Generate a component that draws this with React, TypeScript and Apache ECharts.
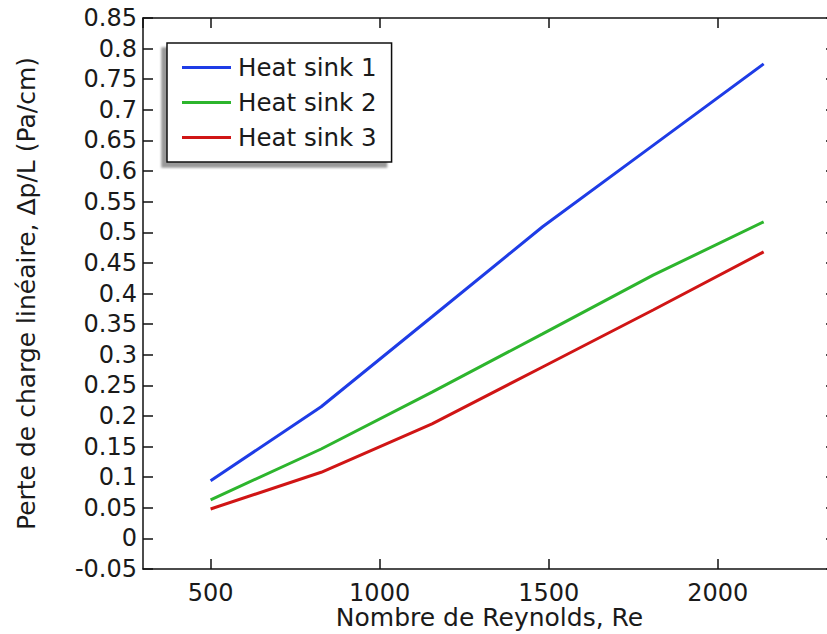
import React, { useEffect, useRef } from "react";
import * as echarts from "echarts";

const reynolds = [500, 827, 1155, 1482, 1809, 2136];
const heatSink1 = [0.094, 0.215, 0.362, 0.509, 0.642, 0.775];
const heatSink2 = [0.063, 0.146, 0.239, 0.334, 0.43, 0.517];
const heatSink3 = [0.048, 0.108, 0.187, 0.28, 0.373, 0.468];
const seriesNames = ["Heat sink 1", "Heat sink 2", "Heat sink 3"];
const seriesColors = ["#1e3ce6", "#2db52d", "#d01515"];
const xTitle = "Nombre de Reynolds, Re";
const yTitle = "Perte de charge linéaire, Δp/L (Pa/cm)";

const FONT = "DejaVu Sans";

export default function App() {
  const ref = useRef<HTMLDivElement>(null);
  useEffect(() => {
    document.body.style.margin = "0";
    document.documentElement.style.overflow = "hidden";
    const chart = echarts.init(ref.current!, null, { renderer: "svg" });
    const allData = [heatSink1, heatSink2, heatSink3];
    const axisLine = { show: true, onZero: false, lineStyle: { color: "#111", width: 1.5 } };
    const tick = { show: true, inside: true, length: 10, lineStyle: { color: "#111", width: 1.5 } };
    chart.setOption({
      animation: false,
      backgroundColor: "#fff",
      textStyle: { fontFamily: FONT },
      grid: { left: 143, top: 18, right: 0, bottom: 65, containLabel: false, outerBoundsMode: "none" },
      legend: {
        left: 167,
        top: 43,
        orient: "vertical",
        data: seriesNames.map((n) => ({ name: n, icon: "rect" })),
        itemWidth: 49,
        itemHeight: 3,
        itemGap: 10,
        padding: [12, 15, 12, 15],
        backgroundColor: "#fff",
        borderColor: "#111",
        borderWidth: 1.5,
        shadowColor: "rgba(0,0,0,0.4)",
        shadowBlur: 2,
        shadowOffsetX: -5,
        shadowOffsetY: 5,
        textStyle: {
          fontSize: 24.5,
          lineHeight: 24,
          color: "#1a1a1a",
          fontFamily: FONT,
          padding: [0, 0, 0, 2],
        },
      },
      xAxis: [
        {
          type: "value",
          min: 300,
          max: 2350,
          splitNumber: 4,
          name: xTitle,
          nameLocation: "middle",
          nameGap: 37.5,
          nameMoveOverlap: false,
          nameTextStyle: { fontSize: 25, lineHeight: 22, color: "#1a1a1a", fontFamily: FONT },
          axisLine,
          axisTick: tick,
          splitLine: { show: false },
          axisLabel: {
            fontSize: 24,
            lineHeight: 20,
            color: "#1a1a1a",
            fontFamily: FONT,
            margin: 14,
            showMinLabel: false,
            showMaxLabel: false,
            formatter: (v: number) => String(v),
          },
        },
        {
          type: "value",
          position: "top",
          min: 300,
          max: 2350,
          splitNumber: 4,
          axisLine,
          axisTick: tick,
          splitLine: { show: false },
          axisLabel: { show: false },
        },
      ],
      yAxis: [
        {
          type: "value",
          min: -0.05,
          max: 0.85,
          interval: 0.05,
          name: yTitle,
          nameLocation: "middle",
          nameGap: 104,
          nameMoveOverlap: false,
          nameTextStyle: { fontSize: 25, color: "#1a1a1a", fontFamily: FONT },
          axisLine,
          axisTick: tick,
          splitLine: { show: false },
          axisLabel: { fontSize: 24, color: "#1a1a1a", fontFamily: FONT, margin: 6 },
        },
        {
          type: "value",
          position: "right",
          min: -0.05,
          max: 0.85,
          interval: 0.05,
          axisLine,
          axisTick: tick,
          splitLine: { show: false },
          axisLabel: { show: false },
        },
      ],
      series: seriesNames.map((name, i) => ({
        name,
        type: "line",
        xAxisIndex: 0,
        yAxisIndex: 0,
        symbol: "none",
        smooth: false,
        lineStyle: { color: seriesColors[i], width: 3 },
        itemStyle: { color: seriesColors[i] },
        data: reynolds.map((r, j) => [r, allData[i][j]]),
      })),
    });
    return () => chart.dispose();
  }, []);
  return (
    <div style={{ width: 827, height: 634, overflow: "hidden" }}>
      <div ref={ref} style={{ width: 836, height: 634 }} />
    </div>
  );
}
